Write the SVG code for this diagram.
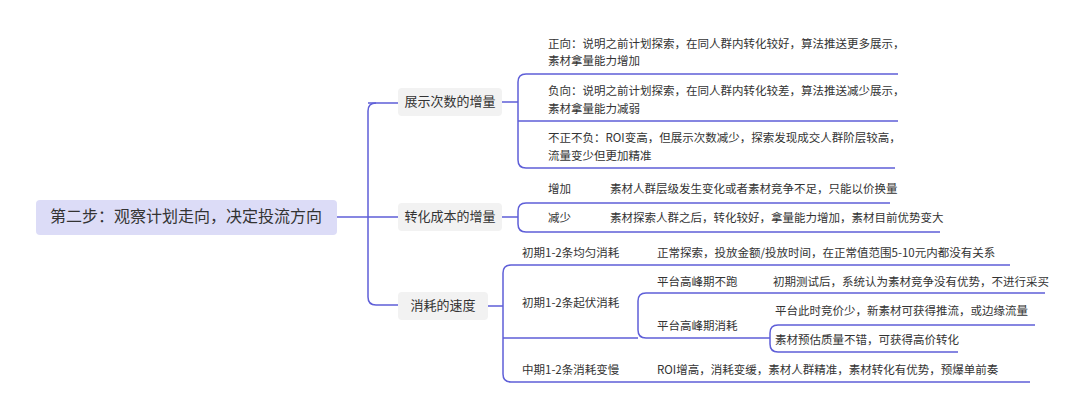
<svg xmlns="http://www.w3.org/2000/svg" width="1080" height="418" viewBox="0 0 1080 418">
<style>
text{font-family:"Noto Sans CJK SC","Noto Sans",sans-serif;fill:#333;font-size:11.5px;dominant-baseline:middle}
.l1{font-size:13px;text-anchor:middle}
.root{font-size:16px;text-anchor:middle}
.c{fill:none;stroke:#5f5fd8;stroke-width:1.5}
.b1{fill:#f2f2f2}
</style>
<rect width="1080" height="418" fill="#fff"/>
<g id="connectors">
<path class="c" d="M337 217H368"/>
<path class="c" d="M376 103Q368 103 368 111V297Q368 305 376 305H398"/>
<path class="c" d="M368 103H398M368 217H398"/>
<path class="c" d="M502 102H518M898 74H526Q518 74 518 82V160Q518 168 526 168H895M518 121H898"/>
<path class="c" d="M502 217H518M890 203H526Q518 203 518 211V224Q518 232 526 232H940"/>
<path class="c" d="M488 306H503M1010 265H511Q503 265 503 273V374Q503 382 511 382H1030M503 338H638"/>
<path class="c" d="M1045 293H646Q638 293 638 301V330Q638 338 646 338H770M1035 325H778Q770 325 770 333V344Q770 352 778 352H958"/>
</g>
<g id="root"><rect x="36" y="200" width="301" height="35" rx="4" fill="#dcdcf7"/><text class="root" x="186" y="218">第二步：观察计划走向，决定投流方向</text></g>
<g id="n1"><rect class="b1" x="398" y="88" width="104" height="28" rx="4"/><text class="l1" x="450" y="102">展示次数的增量</text></g>
<g id="n2"><rect class="b1" x="398" y="203" width="104" height="28" rx="4"/><text class="l1" x="450" y="217">转化成本的增量</text></g>
<g id="n3"><rect class="b1" x="398" y="292" width="90" height="28" rx="4"/><text class="l1" x="443" y="306">消耗的速度</text></g>
<g id="n1a"><text x="548" y="45">正向：说明之前计划探索，在同人群内转化较好，算法推送更多展示，</text><text x="548" y="62">素材拿量能力增加</text></g>
<g id="n1b"><text x="548" y="92">负向：说明之前计划探索，在同人群内转化较差，算法推送减少展示，</text><text x="548" y="110">素材拿量能力减弱</text></g>
<g id="n1c"><text x="548" y="139">不正不负：ROI变高，但展示次数减少，探索发现成交人群阶层较高，</text><text x="548" y="157">流量变少但更加精准</text></g>
<g id="n2a"><text x="548" y="190">增加</text><text x="610" y="190">素材人群层级发生变化或者素材竞争不足，只能以价换量</text></g>
<g id="n2b"><text x="548" y="219">减少</text><text x="610" y="219">素材探索人群之后，转化较好，拿量能力增加，素材目前优势变大</text></g>
<g id="n3a"><text x="522" y="254">初期1-2条均匀消耗</text><text x="657" y="254">正常探索，投放金额/投放时间，在正常值范围5-10元内都没有关系</text></g>
<g id="n3b"><text x="522" y="304">初期1-2条起伏消耗</text></g>
<g id="n3b1"><text x="657" y="283">平台高峰期不跑</text><text x="773" y="283">初期测试后，系统认为素材竞争没有优势，不进行采买</text></g>
<g id="n3b2"><text x="657" y="327">平台高峰期消耗</text></g>
<g id="n3b2a"><text x="775" y="312">平台此时竞价少，新素材可获得推流，或边缘流量</text></g>
<g id="n3b2b"><text x="775" y="341">素材预估质量不错，可获得高价转化</text></g>
<g id="n3c"><text x="522" y="371">中期1-2条消耗变慢</text><text x="657" y="371">ROI增高，消耗变缓，素材人群精准，素材转化有优势，预爆单前奏</text></g>
</svg>
